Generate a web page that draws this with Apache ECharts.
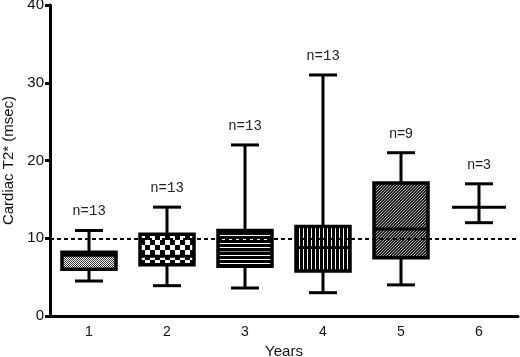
<!DOCTYPE html>
<html>
<head>
<meta charset="utf-8">
<script src="https://cdn.jsdelivr.net/npm/echarts@6/dist/echarts.min.js"></script>
<style>
  html, body { margin: 0; padding: 0; background: #fff; }
  #chart { width: 520px; height: 357px; }
</style>
</head>
<body>
<div id="chart"></div>
<script>
// values
const years = ['1', '2', '3', '4', '5', '6']
const mins = [4.5, 3.9, 3.6, 3.0, 4.0, 12]
const q1s = [6.0, 6.6, 6.4, 5.8, 7.5, 14]
const medians = [7.8, 7.7, 8.1, 8.8, 11.2, 14]
const q3s = [8.2, 10.5, 11.0, 11.5, 17.1, 14]
const maxs = [11, 14, 22, 31, 21, 17]
const counts = [13, 13, 13, 13, 9, 3]
const yTicks = [0, 10, 20, 30, 40]
const refLine = 10

const sans = 'Liberation Sans, Arial, sans-serif'

function makePattern(w, h, draw) {
  const c = document.createElement('canvas')
  c.width = w
  c.height = h
  const ctx = c.getContext('2d')
  ctx.fillStyle = '#fff'
  ctx.fillRect(0, 0, w, h)
  ctx.fillStyle = '#000'
  draw(ctx)
  return { image: c, repeat: 'repeat' }
}

const patterns = [
  // fine dotted
  makePattern(2, 2, function(ctx) {
    ctx.fillStyle = '#333'
    ctx.fillRect(0, 0, 1, 1)
    ctx.fillRect(1, 1, 1, 1)
  }),
  // checkerboard
  makePattern(10, 10, function(ctx) {
    ctx.fillRect(0, 0, 5, 5)
    ctx.fillRect(5, 5, 5, 5)
  }),
  // horizontal white lines on black
  makePattern(4, 4, function(ctx) {
    ctx.fillRect(0, 0, 4, 3)
  }),
  // vertical white lines on black
  makePattern(4, 4, function(ctx) {
    ctx.fillRect(0, 0, 3, 4)
  }),
  // diagonal hatch
  makePattern(3, 3, function(ctx) {
    ctx.fillStyle = '#222'
    ctx.fillRect(0, 0, 3, 3)
    ctx.fillStyle = '#aaa'
    ctx.fillRect(2, 0, 1, 1)
    ctx.fillRect(1, 1, 1, 1)
    ctx.fillRect(0, 2, 1, 1)
  }),
  null
]

const boxData = years.map(function(y, i) {
  return [i, mins[i], q1s[i], medians[i], q3s[i], maxs[i], counts[i]]
})

function renderBox(params, api) {
  const i = params.dataIndex
  const x = api.coord([i, 0])[0]
  const yMin = api.coord([i, api.value(1)])[1]
  const yQ1 = api.coord([i, api.value(2)])[1]
  const yMed = api.coord([i, api.value(3)])[1]
  const yQ3 = api.coord([i, api.value(4)])[1]
  const yMax = api.coord([i, api.value(5)])[1]
  const hb = 27
  const hc = 14
  const lw = 3
  const line = function(x1, y1, x2, y2) {
    return {
      type: 'line',
      shape: { x1: x1, y1: y1, x2: x2, y2: y2 },
      style: { stroke: '#000', lineWidth: lw }
    }
  }
  const children = [
    line(x, yQ3, x, yMax),
    line(x, yQ1, x, yMin),
    line(x - hc, yMax, x + hc, yMax),
    line(x - hc, yMin, x + hc, yMin)
  ]
  if (yQ1 - yQ3 > 0.5) {
    children.push({
      type: 'rect',
      shape: { x: x - hb, y: yQ3, width: hb * 2, height: yQ1 - yQ3 },
      style: { fill: patterns[i] || '#fff', stroke: '#000', lineWidth: 3.5 }
    })
  }
  children.push(line(x - hb, yMed, x + hb, yMed))
  children.push({
    type: 'text',
    style: {
      text: 'n=' + api.value(6),
      x: x,
      y: yMax - 12,
      align: 'center',
      verticalAlign: 'bottom',
      fill: '#222',
      fontSize: 14,
      fontFamily: i < 4 ? 'Liberation Mono, DejaVu Sans Mono, monospace' : sans
    }
  })
  return { type: 'group', children: children }
}

const chart = echarts.init(document.getElementById('chart'))
chart.setOption({
  animation: false,
  grid: { left: 50, right: 2, top: 5, bottom: 41, containLabel: false, outerBoundsMode: 'none' },
  xAxis: {
    type: 'category',
    data: years,
    name: 'Years',
    nameLocation: 'middle',
    nameGap: 25,
    nameTextStyle: { color: '#111', fontSize: 15, fontFamily: sans },
    axisLine: { lineStyle: { color: '#000', width: 3 } },
    axisTick: { alignWithLabel: true, length: 5, lineStyle: { color: '#000', width: 3 } },
    axisLabel: { color: '#111', fontSize: 14, margin: 9, fontFamily: sans },
    splitLine: { show: false }
  },
  yAxis: {
    type: 'value',
    min: yTicks[0],
    max: yTicks[yTicks.length - 1],
    interval: 10,
    name: 'Cardiac T2* (msec)',
    nameLocation: 'middle',
    nameGap: 32,
    nameTextStyle: { color: '#111', fontSize: 15, fontFamily: sans },
    axisLine: { show: true, lineStyle: { color: '#000', width: 3 } },
    axisTick: { show: true, length: 5, lineStyle: { color: '#000', width: 3 } },
    axisLabel: { color: '#111', fontSize: 15, margin: 6, fontFamily: sans },
    splitLine: { show: false }
  },
  series: [
    {
      // reference line sits behind the boxes
      type: 'line',
      data: [],
      z: 1,
      markLine: {
        silent: true,
        symbol: 'none',
        label: { show: false },
        lineStyle: { color: '#000', type: [4, 3], width: 2 },
        data: [{ yAxis: refLine }]
      }
    },
    {
      type: 'custom',
      renderItem: renderBox,
      encode: { x: 0, y: [1, 5] },
      data: boxData,
      clip: false,
      z: 3
    }
  ]
})
</script>
</body>
</html>
